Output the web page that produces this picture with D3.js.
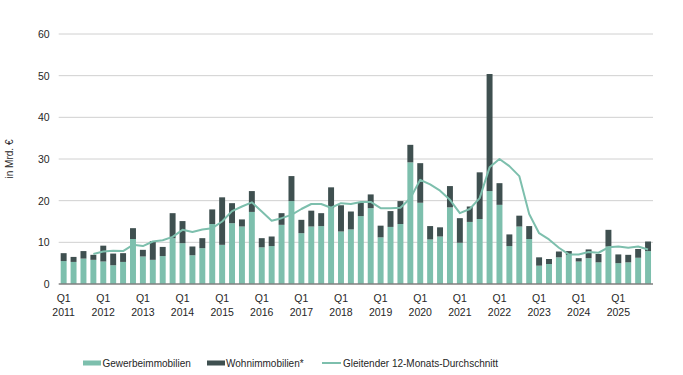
<!DOCTYPE html>
<html>
<head>
<meta charset="utf-8">
<script src="https://cdn.jsdelivr.net/npm/d3@7"></script>
<style>
  body { margin: 0; background: #fff; }
  svg text { font-family: "Liberation Sans", Arial, sans-serif; fill: #262626; }
</style>
</head>
<body>
<div id="chart"></div>
<script>
// quarters 2011 Q1 .. 2025 Q4
var years = d3.range(2011, 2026);
var quarters = [];
years.forEach(function(y) {
    for (var q = 1; q <= 4; q++) quarters.push(y + "Q" + q);
});

// Gewerbeimmobilien, Mrd. EUR
var gewerbe = [
    5.5, 5.3, 6.1, 5.8, 5.4, 4.5, 5.3, 10.8,
    6.6, 5.8, 6.7, 11.0, 9.8, 6.9, 8.6, 14.4,
    9.4, 14.6, 13.8, 17.3, 8.8, 9.1, 14.2, 19.9,
    12.2, 13.8, 13.9, 18.2, 12.6, 13.1, 16.3, 18.2,
    11.2, 13.7, 14.4, 29.2, 19.5, 10.7, 11.4, 18.4,
    9.9, 14.9, 15.6, 22.3, 19.0, 9.1, 13.8, 10.8,
    4.4, 4.8, 6.4, 7.0, 5.4, 6.2, 5.2, 9.0,
    5.0, 5.2, 6.3, 7.9
];

// bar totals (Gewerbe + Wohnen)
var total = [
    7.4, 6.5, 7.9, 7.0, 9.2, 7.3, 7.4, 13.4,
    8.2, 10.3, 8.9, 17.0, 15.1, 9.0, 11.0, 17.9,
    20.8, 19.4, 15.5, 22.3, 11.0, 11.4, 17.0, 25.9,
    15.4, 17.6, 17.0, 23.2, 18.9, 17.4, 19.6, 21.5,
    14.0, 17.5, 19.9, 33.4, 29.0, 13.9, 13.6, 23.5,
    15.8, 18.6, 26.8, 50.4, 24.2, 11.9, 16.4, 13.9,
    6.4, 6.0, 7.8, 7.9, 6.2, 8.3, 7.2, 13.0,
    7.1, 7.0, 8.4, 10.2
];
// Wohnimmobilien* = total minus Gewerbe
var wohnen = total.map(function(t, i) { return +(t - gewerbe[i]).toFixed(1); });

// Gleitender 12-Monats-Durchschnitt, from 2011 Q4
var avg = [
    null, null, null, 7.2, 7.8, 8.0, 7.9, 9.4,
    9.1, 10.2, 10.5, 11.3, 13.0, 12.5, 13.1, 13.4,
    15.0, 17.5, 18.6, 19.6, 17.4, 15.2, 15.8, 16.6,
    18.0, 19.2, 19.2, 18.3, 19.4, 19.2, 19.7, 19.7,
    18.2, 18.2, 18.3, 20.6, 25.0, 23.9, 22.4, 20.2,
    17.0, 18.0, 20.6, 28.0, 30.0, 28.3, 25.9, 16.8,
    12.2, 10.7, 8.7, 7.1, 7.1, 7.7, 7.5, 8.8,
    9.0, 8.7, 9.0, 8.3
];

var yTicks = [0, 10, 20, 30, 40, 50, 60];
var seriesNames = ["Gewerbeimmobilien", "Wohnimmobilien*", "Gleitender 12-Monats-Durchschnitt"];
var colors = ["#7dbfad", "#3f5050"];

var W = 683, H = 375;
// note: "top" is taken by window.top, so prefixed names
var plotL = 58.7, plotR = 653, plotT = 34, plotB = 284;

var svg = d3.select("#chart").append("svg")
    .attr("width", W).attr("height", H);

var x = d3.scaleBand().domain(quarters).range([plotL, plotR]).paddingInner(0.4).paddingOuter(0.2);
var y = d3.scaleLinear().domain([0, 60]).range([plotB, plotT]);

// gridlines
svg.append("g").selectAll("line")
    .data(yTicks.filter(function(d) { return d > 0; }))
    .enter().append("line")
    .attr("x1", plotL).attr("x2", plotR)
    .attr("y1", function(d) { return y(d); })
    .attr("y2", function(d) { return y(d); })
    .attr("stroke", "#d0d0d0").attr("stroke-width", 1);

// y axis labels
var yAxis = svg.append("g")
    .attr("transform", "translate(" + (plotL - 9) + ",0)")
    .call(d3.axisLeft(y).tickValues(yTicks).tickSize(0).tickPadding(0));
yAxis.select(".domain").remove();
yAxis.selectAll("text").attr("font-size", 10.5)
    .style("font-family", '"Liberation Sans", Arial, sans-serif').attr("fill", "#262626");

svg.append("text")
    .attr("transform", "translate(13," + ((plotT + plotB) / 2) + ") rotate(-90)")
    .attr("text-anchor", "middle")
    .attr("font-size", 10)
    .text("in Mrd. €");

// stacked bars
var stackData = quarters.map(function(q, i) {
    return { q: q, gewerbe: gewerbe[i], wohnen: wohnen[i] };
});
var stack = d3.stack().keys(["gewerbe", "wohnen"])(stackData);

svg.append("g").selectAll("g")
    .data(stack).enter().append("g")
    .attr("fill", function(d, i) { return colors[i]; })
    .selectAll("rect")
    .data(function(d) { return d; })
    .enter().append("rect")
    .attr("x", function(d) { return x(d.data.q); })
    .attr("width", x.bandwidth())
    .attr("y", function(d) { return y(d[1]); })
    .attr("height", function(d) { return y(d[0]) - y(d[1]); });

// x axis baseline
svg.append("line")
    .attr("x1", plotL).attr("x2", plotR)
    .attr("y1", plotB).attr("y2", plotB)
    .attr("stroke", "#7f7f7f").attr("stroke-width", 1.5);

// moving average line
var line = d3.line()
    .defined(function(d) { return d != null; })
    .x(function(d, i) { return x(quarters[i]) + x.bandwidth() / 2; })
    .y(function(d) { return y(d); });

svg.append("path")
    .datum(avg)
    .attr("fill", "none")
    .attr("stroke", colors[0])
    .attr("stroke-width", 2)
    .attr("stroke-linejoin", "round")
    .attr("d", line);

// x labels, Q1 of each year
var xl = svg.append("g").selectAll("g")
    .data(years).enter().append("g")
    .attr("transform", function(d) {
        return "translate(" + (x(d + "Q1") + x.bandwidth() / 2) + ",0)";
    });
xl.append("text").attr("y", 302).attr("text-anchor", "middle")
    .attr("font-size", 10.5).text("Q1");
xl.append("text").attr("y", 316).attr("text-anchor", "middle")
    .attr("font-size", 10.5).text(function(d) { return d; });

// legend
var leg = svg.append("g").attr("transform", "translate(0,363)");
leg.append("rect").attr("x", 83).attr("y", -2.5).attr("width", 18).attr("height", 5).attr("fill", colors[0]);
leg.append("text").attr("x", 102.5).attr("y", 3.5).attr("font-size", 10).text(seriesNames[0]);
leg.append("rect").attr("x", 207).attr("y", -2.5).attr("width", 18).attr("height", 5).attr("fill", colors[1]);
leg.append("text").attr("x", 226).attr("y", 3.5).attr("font-size", 10).text(seriesNames[1]);
leg.append("line").attr("x1", 322).attr("x2", 341).attr("y1", 0).attr("y2", 0)
    .attr("stroke", colors[0]).attr("stroke-width", 2);
leg.append("text").attr("x", 343).attr("y", 3.5).attr("font-size", 10).text(seriesNames[2]);
</script>
</body>
</html>
